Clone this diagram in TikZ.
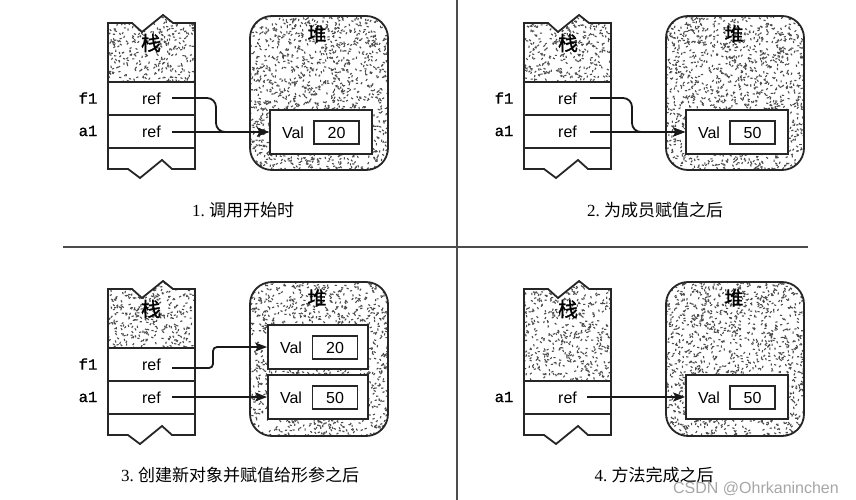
\documentclass[tikz,border=0pt]{standalone}
\usepackage{fontspec}
\setmainfont{Liberation Serif}
\newfontfamily\cjk{Noto Sans CJK SC}
\newfontfamily\cjkb{Noto Sans CJK SC}[FakeBold=1.2]
\newfontfamily\arial{Liberation Sans}
\newfontfamily\cour{Liberation Mono}[FakeBold=0.8]
\usetikzlibrary{arrows.meta}

\newcommand\speckle[5]{\foreach \k in {1,...,#5}{\pgfmathsetmacro\sx{#1+rnd*(#3)}\pgfmathsetmacro\sy{#2+rnd*(#4)}\pgfmathsetmacro\sa{rnd*180}\fill[speck,rotate around={\sa:(\sx,\sy)}] (\sx-1.1,\sy-0.55) rectangle (\sx+1.1,\sy+0.55);}}

\newcommand\drawstack[2]{%
  \fill[white] (108,23) -- (132,23) -- (142,32) -- (163,15) -- (173,23) -- (195,23) -- (195,169) -- (172,169) -- (162,160) -- (140,178) -- (128,169) -- (108,169) -- cycle;
  \begin{scope}
    \clip (108,23) -- (132,23) -- (142,32) -- (163,15) -- (173,23) -- (195,23) -- (195,#1) -- (108,#1) -- cycle;
    \speckle{108}{14}{87}{#1-14}{#2}
  \end{scope}
  \draw[outline] (108,23) -- (132,23) -- (142,32) -- (163,15) -- (173,23) -- (195,23) -- (195,169) -- (172,169) -- (162,160) -- (140,178) -- (128,169) -- (108,169) -- cycle;
}

\newcommand\drawheap[1]{%
  \fill[white, rounded corners=22pt] (250,16) rectangle (388,170);
  \begin{scope}
    \clip[rounded corners=22pt] (250,16) rectangle (388,170);
    \speckle{250}{16}{138}{154}{#1}
  \end{scope}
  \draw[outline, rounded corners=22pt] (250,16) rectangle (388,170);
}

\begin{document}
\begin{tikzpicture}[x=1pt,y=-1pt,
  outline/.style={line width=1.8pt, draw=black!85},
  speck/.style={fill=black!70},
  rowbox/.style={draw=black!85, line width=1.8pt, fill=white, minimum width=87pt, minimum height=33pt, inner sep=0pt, font=\arial\fontsize{16}{16}\selectfont},
  valbox/.style={draw=black!85, line width=1.8pt, fill=white, minimum width=102pt, minimum height=44pt, inner sep=0pt},
  numbox/.style={draw=black!85, line width=1.5pt, fill=white, minimum width=45pt, minimum height=23pt, inner sep=0pt, font=\arial\fontsize{16}{16}\selectfont},
  valtxt/.style={font=\arial\fontsize{16}{16}\selectfont, inner sep=0pt},
  lbl/.style={font=\cour\fontsize{15.5}{15.5}\selectfont, inner sep=0pt},
  stacklbl/.style={font=\cjkb\fontsize{20}{20}\selectfont, inner sep=0pt},
  heaplbl/.style={font=\cjkb\fontsize{19}{19}\selectfont, inner sep=0pt},
  captxt/.style={font=\fontsize{17}{17}\selectfont, inner sep=0pt},
  ptr/.style={line width=1.8pt, draw=black!90, -{Stealth[length=12pt,width=9pt,inset=2.5pt]}},
  divider/.style={line width=1.5pt, draw=black!70}
]
\useasboundingbox (0,0) rectangle (856,500);
\pgfmathsetseed{4242}

% dividers
\coordinate (dvt) at (457,0);
\coordinate (dvb) at (457,500);
\coordinate (dhl) at (63,247);
\coordinate (dhr) at (808,247);
\draw[divider] (dvt) -- (dvb);
\draw[divider] (dhl) -- (dhr);

% ---------- panel 1 ----------
\begin{scope}
  \drawheap{1300}
  \node[heaplbl] (h1) at (317,34) {堆};
  \node[valbox] (v1) at (321,132) {};
  \node[valtxt] (vl1) at (293,133) {Val};
  \node[numbox] (n1) at (336.5,132.5) {20};
  \drawstack{82}{330}
  \node[stacklbl] (s1) at (151,43) {栈};
  \node[rowbox] (rf1) at (151.5,98.5) {ref};
  \node[rowbox] (ra1) at (151.5,131.5) {ref};
  \node[lbl] (lf1) at (88,98) {f1};
  \node[lbl] (la1) at (88,131) {a1};
  \coordinate (pf1) at (172,98);
  \coordinate (pa1) at (172,132);
  \draw[ptr, rounded corners=9pt] (pf1) -- ++(44,0) |- (v1.west);
  \draw[ptr] (pa1) -- (pa1 -| v1.west);
\end{scope}

% ---------- panel 2 ----------
\begin{scope}[shift={(416,0)}]
  \drawheap{1300}
  \node[heaplbl] (h2) at (318,34) {堆};
  \node[valbox] (v2) at (321,132) {};
  \node[valtxt] (vl2) at (293,133) {Val};
  \node[numbox] (n2) at (336.5,132.5) {50};
  \drawstack{82}{330}
  \node[stacklbl] (s2) at (152,43) {栈};
  \node[rowbox] (rf2) at (151.5,98.5) {ref};
  \node[rowbox] (ra2) at (151.5,131.5) {ref};
  \node[lbl] (lf2) at (88,98) {f1};
  \node[lbl] (la2) at (88,131) {a1};
  \coordinate (pf2) at (174,98);
  \coordinate (pa2) at (174,132);
  \draw[ptr, rounded corners=9pt] (pf2) -- ++(42,0) |- (v2.west);
  \draw[ptr] (pa2) -- (pa2 -| v2.west);
\end{scope}

% ---------- panel 3 ----------
\begin{scope}[shift={(0,266)}]
  \drawheap{1300}
  \node[heaplbl] (h3) at (317,32) {堆};
  \node[valbox, minimum width=100pt] (v3a) at (318,81) {};
  \node[valtxt] (vl3a) at (291,82) {Val};
  \node[numbox] (n3a) at (335,81.5) {20};
  \node[valbox, minimum width=100pt] (v3b) at (318,131) {};
  \node[valtxt] (vl3b) at (291,132) {Val};
  \node[numbox] (n3b) at (335,131.5) {50};
  \drawstack{82}{330}
  \node[stacklbl] (s3) at (151,43) {栈};
  \node[rowbox] (rf3) at (151.5,98.5) {ref};
  \node[rowbox] (ra3) at (151.5,131.5) {ref};
  \node[lbl] (lf3) at (88,98) {f1};
  \node[lbl] (la3) at (88,131) {a1};
  \coordinate (pf3) at (172,102);
  \coordinate (pa3) at (172,131);
  \draw[ptr, rounded corners=4pt] (pf3) -- ++(41,0) |- (v3a.west);
  \draw[ptr] (pa3) -- (pa3 -| v3b.west);
\end{scope}

% ---------- panel 4 ----------
\begin{scope}[shift={(416,266)}]
  \drawheap{1300}
  \node[heaplbl] (h4) at (318,32) {堆};
  \node[valbox] (v4) at (321,131) {};
  \node[valtxt] (vl4) at (293,132) {Val};
  \node[numbox] (n4) at (336.5,131.5) {50};
  \drawstack{115}{480}
  \node[stacklbl] (s4) at (152,43) {栈};
  \node[rowbox] (ra4) at (151.5,131.5) {ref};
  \node[lbl] (la4) at (88,131) {a1};
  \coordinate (pa4) at (171,131);
  \draw[ptr] (pa4) -- (pa4 -| v4.west);
\end{scope}

% captions
\node[captxt] (c1) at (243,210) {1.~{\cjk 调用开始时}};
\node[captxt] (c2) at (655,210) {2.~{\cjk 为成员赋值之后}};
\node[captxt] (c3) at (240,475) {3.~{\cjk 创建新对象并赋值给形参之后}};
\node[captxt] (c4) at (654,475) {4.~{\cjk 方法完成之后}};
\node[font=\arial\fontsize{16}{16}\selectfont, text=black!35, inner sep=0pt] (wm) at (756,489) {CSDN @Ohrkaninchen};
\end{tikzpicture}
\end{document}
